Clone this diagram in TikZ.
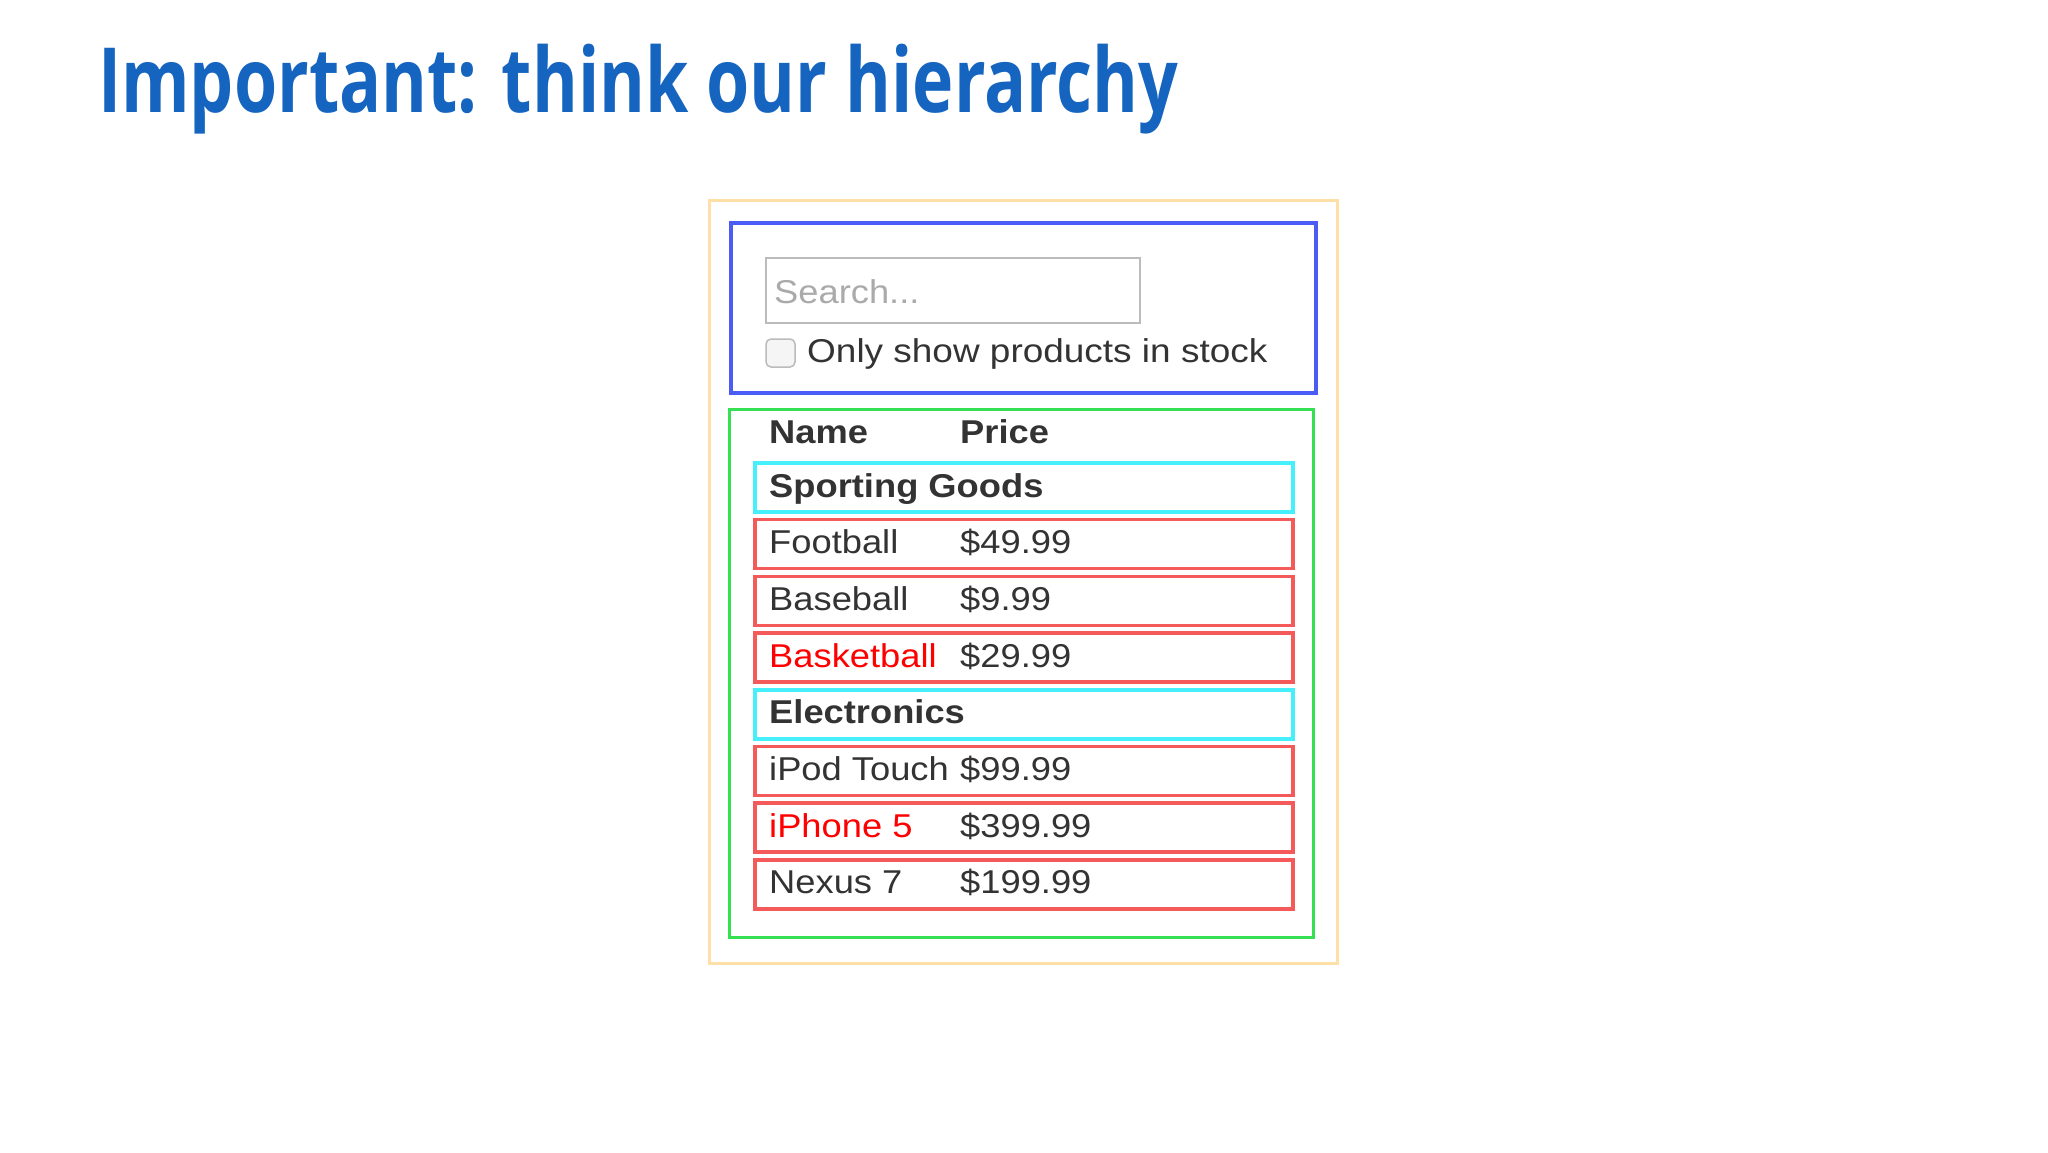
\documentclass[tikz,border=0pt]{standalone}
\usepackage{fontspec}
\usepackage{graphicx}
\newfontfamily\titlefont[FakeStretch=0.776]{Open Sans}
\newfontfamily\uifont[FakeStretch=1.1]{Liberation Sans}
\newfontfamily\uiwide[FakeStretch=1.12]{Liberation Sans}
\definecolor{titleblue}{HTML}{1565C0}
\definecolor{appor}{HTML}{FFDFA8}
\definecolor{barblue}{HTML}{4B5BF5}
\definecolor{tblgreen}{HTML}{35E052}
\definecolor{catcyan}{HTML}{45F0FA}
\definecolor{rowred}{HTML}{F55A5A}
\definecolor{txt}{HTML}{333333}
\definecolor{ph}{HTML}{AAAAAA}
\definecolor{inbord}{HTML}{BBBBBB}
\tikzset{
  box/.style={anchor=north west, inner sep=0pt, outer sep=0pt},
  catbox/.style={box, draw=catcyan, line width=3.5pt, minimum width=538pt, minimum height=49pt},
  rowbox/.style={box, draw=rowred, line width=3.5pt, minimum width=538pt, minimum height=49pt},
  ui/.style={anchor=base west, inner sep=0pt, text=txt, font=\uifont\fontsize{33}{38}\selectfont},
  uib/.style={ui, font=\uifont\bfseries\fontsize{33}{38}\selectfont},
  hot/.style={ui, text=red},
}
\begin{document}
\begin{tikzpicture}[x=1pt,y=-1pt]
\useasboundingbox (0,0) rectangle (2048,1152);
\fill[white] (0,0) rectangle (2048,1152);

\node[anchor=base west, inner sep=0pt, text=titleblue, font=\titlefont\bfseries\fontsize{90}{100}\selectfont] (title) at (98,112) {Important: think our hierarchy};

% containers
\node[box, draw=appor, line width=3pt, minimum width=628pt, minimum height=763pt] (app) at (709,200) {};
\node[box, draw=barblue, line width=3.5pt, minimum width=585pt, minimum height=170pt] (searchbar) at (731,223) {};
\node[box, draw=tblgreen, line width=3pt, minimum width=584pt, minimum height=528pt] (table) at (729,409) {};

% search bar content
\node[box, draw=inbord, line width=2.5pt, fill=white, minimum width=374pt, minimum height=65pt] (input) at (766,258) {};
\node[ui, text=ph] (placeholder) at (774,303) {Search...};
\node[box, draw=inbord, line width=1.5pt, fill=black!4, rounded corners=5pt, minimum width=29pt, minimum height=28pt] (check) at (766,339) {};
\node[ui, font=\uiwide\fontsize{33}{38}\selectfont] (checklabel) at (807,362) {Only show products in stock};

% header
\node[uib] (hname) at (769,443) {Name};
\node[uib] (hprice) at (960,443) {Price};

% rows
\node[catbox] (cat1) at (755,463) {};
\node[uib] (cat1t) at (769,497) {Sporting Goods};

\node[rowbox] (r1) at (755,519.7) {};
\node[ui] (r1n) at (769,553.7) {Football};
\node[ui] (r1p) at (960,553.7) {\$49.99};

\node[rowbox] (r2) at (755,576.4) {};
\node[ui] (r2n) at (769,610.4) {Baseball};
\node[ui] (r2p) at (960,610.4) {\$9.99};

\node[rowbox] (r3) at (755,633.1) {};
\node[hot] (r3n) at (769,667.1) {Basketball};
\node[ui] (r3p) at (960,667.1) {\$29.99};

\node[catbox] (cat2) at (755,689.8) {};
\node[uib] (cat2t) at (769,723.8) {Electronics};

\node[rowbox] (r4) at (755,746.5) {};
\node[ui] (r4n) at (769,780.5) {iPod Touch};
\node[ui] (r4p) at (960,780.5) {\$99.99};

\node[rowbox] (r5) at (755,803.2) {};
\node[hot] (r5n) at (769,837.2) {iPhone 5};
\node[ui] (r5p) at (960,837.2) {\$399.99};

\node[rowbox] (r6) at (755,859.9) {};
\node[ui] (r6n) at (769,893.9) {Nexus 7};
\node[ui] (r6p) at (960,893.9) {\$199.99};
\end{tikzpicture}
\end{document}
